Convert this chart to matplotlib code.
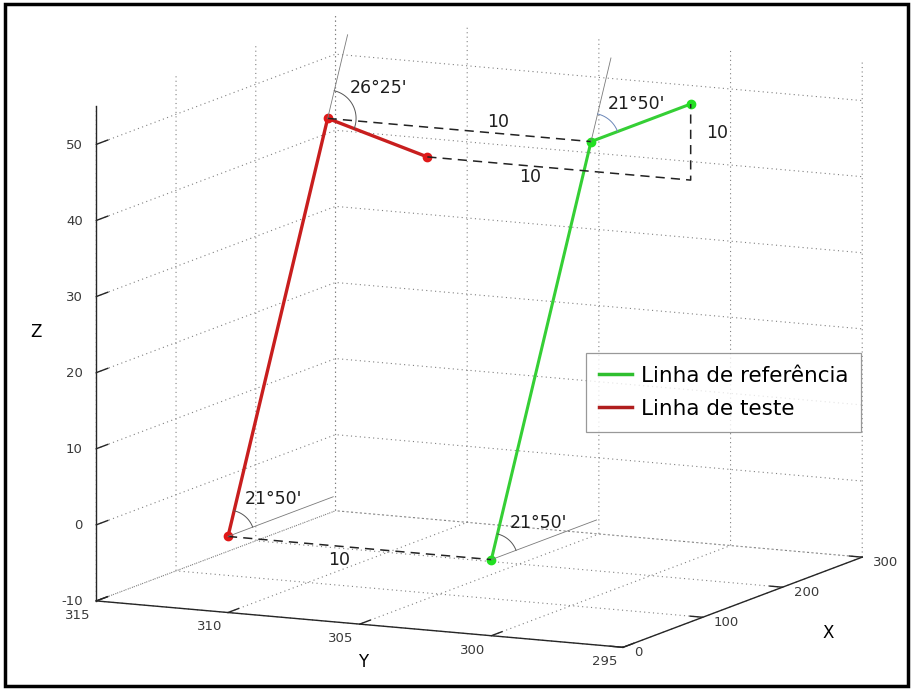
import numpy as np
import matplotlib
matplotlib.use('Agg')
import matplotlib.pyplot as plt
from matplotlib.lines import Line2D
from matplotlib.patches import Rectangle
from matplotlib.transforms import offset_copy
from mpl_toolkits.mplot3d import proj3d

# vertices (X, Y, Z) of both lines
ref_x = [0, 125, 250]
ref_y = [300, 300, 300]
ref_z = [0, 50, 50]
test_x = [0, 125, 250]
test_y = [310, 310, 310]
test_z = [0, 50, 40]

ref_label = 'Linha de referência'
test_label = 'Linha de teste'
dim_text = '10'
ang_bottom = "21°50'"
ang_test_top = "26°25'"
ang_ref_top = "21°50'"

x_ticks = [0, 100, 200, 300]
y_ticks = [295, 300, 305, 310, 315]
z_ticks = [-10, 0, 10, 20, 30, 40, 50]

GREEN = '#35cf35'
RED = '#c81e1e'
W, H = 913, 690

plt.rcParams['axes.unicode_minus'] = False

fig = plt.figure(figsize=(W / 100, H / 100), dpi=100)
S = 760
cx, cy = 469, 342
ax = fig.add_axes([(cx - S / 2) / W, (H - cy - S / 2) / H, S / W, S / H],
                  projection='3d', proj_type='ortho')
ax.view_init(elev=10.5, azim=-154.2)
ax.set_box_aspect((543, 578, 497), zoom=1.21)
ax.set_xlim(0, 300)
ax.set_ylim(295, 315)
ax.set_zlim(-10, 55)
ax.set_xticks(x_ticks)
ax.set_yticks(y_ticks)
ax.set_zticks(z_ticks)

for a, out in ((ax.xaxis, 0.3), (ax.yaxis, 0.55), (ax.zaxis, 0.6)):
    a.set_pane_color((1, 1, 1, 0))
    a._axinfo['grid'].update(color='#808080', linewidth=0.8, linestyle=(0, (1, 3)))
    a._axinfo['tick'].update(inward_factor=0.0, outward_factor=out)
    a._axinfo['tick']['linewidth'] = {True: 1.0, False: 0.6}
    a.line.set_color('#262626')
    a.line.set_linewidth(1.0)
    a.label.set_visible(False)
    a.offsetText.set_visible(False)
ax.tick_params(axis='x', labelsize=9.5, labelcolor='#3a3a3a', colors='#262626', pad=-2)
ax.tick_params(axis='y', labelsize=9.5, labelcolor='#3a3a3a', colors='#262626', pad=-1)
ax.tick_params(axis='z', labelsize=9.5, labelcolor='#3a3a3a', colors='#262626', pad=-3)
plt.setp(ax.get_xticklabels(), ha='left', va='bottom')
plt.setp(ax.get_yticklabels(), ha='right', va='center')
plt.setp(ax.get_zticklabels(), ha='right', va='center')
for t in (ax.title, ax._left_title, ax._right_title):
    t.set_visible(False)

# axis names
fig.text(828 / W, 1 - 633 / H, 'X', fontsize=12, ha='center', va='center')
fig.text(363 / W, 1 - 662 / H, 'Y', fontsize=12, ha='center', va='center')
fig.text(36 / W, 1 - 332 / H, 'Z', fontsize=12, ha='center', va='center')

# main lines
ax.plot(ref_x, ref_y, ref_z, color=GREEN, lw=2.2, marker='o', ms=6,
        mfc='#22e022', mec='#22e022')
ax.plot(test_x, test_y, test_z, color=RED, lw=2.4, marker='o', ms=6,
        mfc='#e01818', mec='#e01818')

# dashed distance lines
dash = dict(color='#222222', lw=1.1, ls=(0, (6, 4)))
ax.plot([test_x[0], ref_x[0]], [test_y[0], ref_y[0]], [test_z[0], ref_z[0]], **dash)
ax.plot([test_x[1], ref_x[1]], [test_y[1], ref_y[1]], [test_z[1], ref_z[1]], **dash)
ax.plot([test_x[2], ref_x[2], ref_x[2]], [test_y[2], ref_y[2], ref_y[2]],
        [test_z[2], test_z[2], ref_z[2]], **dash)

# thin construction lines
thin = dict(color='#7a7a7a', lw=0.6)
for xs, ys, zs in ((test_x, test_y, test_z), (ref_x, ref_y, ref_z)):
    ax.plot([xs[0], xs[0] + 132], [ys[0], ys[0]], [zs[0], zs[0]], **thin)
    dx, dz = xs[1] - xs[0], zs[1] - zs[0]
    ax.plot([xs[1], xs[1] + 0.2 * dx], [ys[1], ys[1]], [zs[1], zs[1] + 0.2 * dz], **thin)

# angle arcs, drawn round in screen space
M = ax.get_proj()


def to2d(x, y, z):
    a, b, _ = proj3d.proj_transform(np.atleast_1d(x), np.atleast_1d(y), np.atleast_1d(z), M)
    return np.array([a[0], b[0]])


def arc(p, d1, d2, r_px, color):
    p0 = to2d(*p)
    jx = to2d(p[0] + 1, p[1], p[2]) - p0
    jz = to2d(p[0], p[1], p[2] + 1) - p0
    J = np.column_stack([jx, jz])
    px_per_z = np.linalg.norm(jz) / 7.5
    v1 = J @ np.array(d1, float)
    v2 = J @ np.array(d2, float)
    a1 = np.arctan2(v1[1], v1[0])
    a2 = np.arctan2(v2[1], v2[0])
    t = np.linspace(a1, a2, 40)
    pts = np.column_stack([np.cos(t), np.sin(t)]) * r_px * px_per_z
    dxz = np.linalg.solve(J, pts.T)
    ax.plot(p[0] + dxz[0], np.full(t.size, p[1]), p[2] + dxz[1], color=color, lw=0.7)


for xs, ys, zs in ((test_x, test_y, test_z), (ref_x, ref_y, ref_z)):
    arc((xs[0], ys[0], zs[0]), (xs[1] - xs[0], zs[1] - zs[0]), (1, 0), 26, '#555555')
    arc((xs[1], ys[1], zs[1]), (xs[1] - xs[0], zs[1] - zs[0]),
        (xs[2] - xs[1], zs[2] - zs[1]), 28, '#555555' if xs is test_x else '#6a86b8')


def label(p, s, dx, dy):
    t = ax.text(p[0], p[1], p[2], s, fontsize=12.5, color='#1e1e1e',
                ha='center', va='center')
    t.set_transform(offset_copy(ax.transData, fig=fig, x=dx, y=dy, units='dots'))


def mid(a, b):
    return [(u + v) / 2 for u, v in zip(a, b)]


p_t = list(zip(test_x, test_y, test_z))
p_r = list(zip(ref_x, ref_y, ref_z))
label(mid(p_t[0], p_r[0]), dim_text, -21, -12)
label(mid(p_t[1], p_r[1]), dim_text, 39, 8)
label(mid(p_t[2], (ref_x[2], ref_y[2], test_z[2])), dim_text, -29, -8)
label(mid((ref_x[2], ref_y[2], test_z[2]), p_r[2]), dim_text, 26, 9)
label(p_t[1], ang_test_top, 51, 30)
label(p_r[1], ang_ref_top, 45, 38)
label(p_t[0], ang_bottom, 45, 37)
label(p_r[0], ang_bottom, 47, 37)

handles = [Line2D([], [], color='#2fbf2f', lw=2.5), Line2D([], [], color='#b01e1e', lw=2.5)]
leg = ax.legend(handles, [ref_label, test_label], loc='upper left',
                bbox_to_anchor=(586 / W, 1 - 353 / H), bbox_transform=fig.transFigure,
                fontsize=15.5, frameon=True, fancybox=False, borderaxespad=0,
                handlelength=1.55, handletextpad=0.4, labelspacing=0.6,
                borderpad=0.6)
leg.get_frame().set_edgecolor('#808080')
leg.get_frame().set_linewidth(0.9)

fig.patches.append(Rectangle((5 / W, 4 / H), 903 / W, 682 / H, transform=fig.transFigure,
                             fill=False, ec='black', lw=2.5))

fig.savefig('out.png', dpi=100)
